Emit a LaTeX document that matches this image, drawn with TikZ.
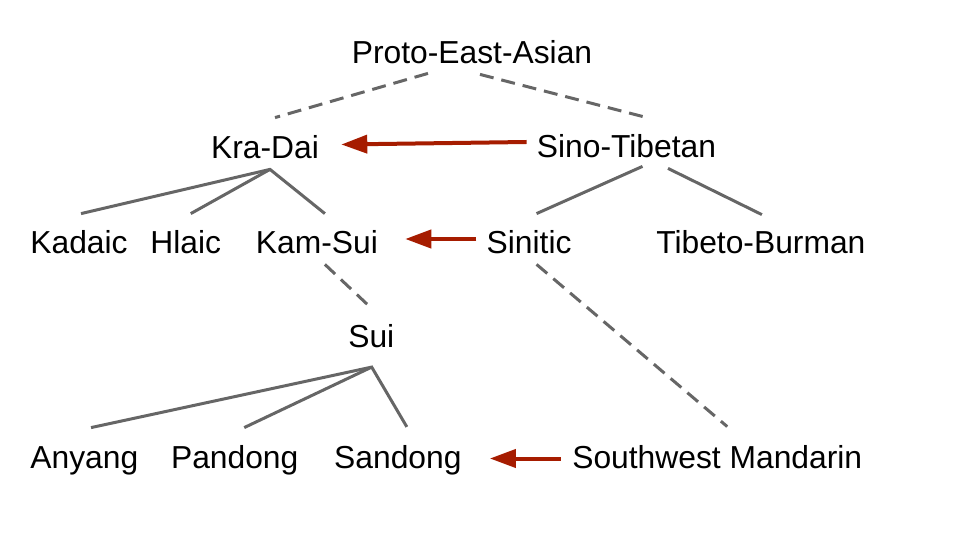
\documentclass[tikz,border=0pt]{standalone}
\usepackage{fontspec}
\setmainfont{Liberation Sans}
\usepackage{xcolor}
\usepackage{tikz}
\usetikzlibrary{
    arrows.meta,
    positioning
}
\definecolor{treegray}{HTML}{666666}
\definecolor{contactred}{HTML}{A61C00}
\tikzset{
    % Language name
    langnode/.style={
        font=\fontsize{15.9}{19}\selectfont,
        text=black,
        inner sep=0pt,
        text height=11.5pt,
        text depth=0pt,
        anchor=base
    },
    % Tree branch
    branch/.style={
        draw=treegray,
        line width=1.5pt
    },
    % Uncertain branch
    dashbranch/.style={
        branch,
        dash pattern=on 7pt off 4pt
    },
    % Contact arrow
    contactarrow/.style={
        -{Triangle[length=13pt,width=9pt]},
        line width=2pt,
        color=#1
    },
    contactarrow/.default=contactred
}

\begin{document}
\begin{tikzpicture}[x=0.5pt, y=-0.5pt]
    \useasboundingbox (0,0) rectangle (960,540);
    % Families
    \node[langnode] (pea) at (472,64) {Proto-East-Asian};
    \node[langnode] (kradai) at (265,159) {Kra-Dai};
    \node[langnode] (sinotib) at (626.5,158) {Sino-Tibetan};

    % Branches
    \node[langnode, anchor=base west] (kadaic) at (30,254) {Kadaic};
    \node[langnode, right=11pt of kadaic] (hlaic) {Hlaic};
    \node[langnode, right=17pt of hlaic] (kamsui) {Kam-Sui};
    \node[langnode, right=54pt of kamsui] (sinitic) {Sinitic};
    \node[langnode, right=42pt of sinitic] (tibbur) {Tibeto-Burman};

    \node[langnode] (sui) at (371.3,348) {Sui};

    % Varieties
    \node[langnode, anchor=base west] (anyang) at (30,468) {Anyang};
    \node[langnode, right=16pt of anyang] (pandong) {Pandong};
    \node[langnode, right=17.5pt of pandong] (sandong) {Sandong};
    \node[langnode, right=55pt of sandong] (swm) {Southwest Mandarin};

    % Tree
    \draw[dashbranch] ([shift={(-44,9)}]pea.south) -- ([shift={(10,-18)}]kradai.north);
    \draw[dashbranch] ([shift={(8,10)}]pea.south) -- ([shift={(16.5,-18)}]sinotib.north);
    \draw[branch] ([shift={(2,-17)}]kadaic.north) -- ([shift={(5,10)}]kradai.south)
        -- ([shift={(8,-17)}]kamsui.north);
    \draw[branch] ([shift={(5,10)}]kradai.south) -- ([shift={(5,-17)}]hlaic.north);
    \draw[branch] ([shift={(16,8)}]sinotib.south) -- ([shift={(7.5,-17)}]sinitic.north);
    \draw[branch] ([shift={(41.5,10)}]sinotib.south) -- ([shift={(1,-16)}]tibbur.north);
    \draw[dashbranch] ([shift={(8,10)}]kamsui.south) -- ([shift={(0.5,-16)}]sui.north);
    \draw[dashbranch] ([shift={(7.5,10)}]sinitic.south) -- ([shift={(10,-18)}]swm.north);
    \draw[branch] ([shift={(6.7,-17)}]anyang.north) -- ([shift={(0.4,18.7)}]sui.south)
        -- ([shift={(9,-17.7)}]sandong.north);
    \draw[branch] ([shift={(0.4,18.7)}]sui.south) -- ([shift={(9.5,-17)}]pandong.north);

    % Contact
    \draw[contactarrow] ([shift={(-10,-4.5)}]sinotib.west) -- ([shift={(22,-3)}]kradai.east);
    \draw[contactarrow] ([shift={(-10,-3.5)}]sinitic.west) -- ([shift={(27,-3.5)}]kamsui.east);
    \draw[contactarrow] ([shift={(-11,2)}]swm.west) -- ([shift={(28,2)}]sandong.east);
\end{tikzpicture}
\end{document}
